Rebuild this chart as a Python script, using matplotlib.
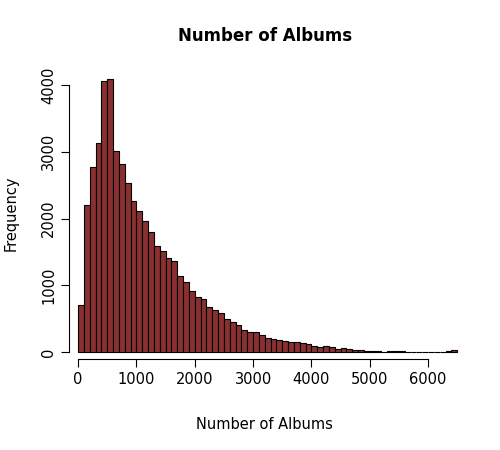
import matplotlib.pyplot as plt
import numpy as np

# histogram counts per bin of 100 albums
bin_edges = np.arange(0, 6600, 100)
counts = [711, 2204, 2766, 3129, 4055, 4085, 3010, 2816, 2532, 2264,
          2114, 1965, 1801, 1592, 1517, 1413, 1368, 1144, 1055, 920,
          831, 801, 667, 622, 577, 488, 443, 398, 323, 294,
          294, 249, 204, 190, 175, 160, 145, 145, 140, 115,
          90, 75, 85, 70, 45, 55, 40, 30, 30, 20,
          15, 8, 5, 22, 22, 20, 5, 5, 3, 3,
          3, 3, 5, 8, 30]

fig = plt.figure(figsize=(5, 4.5), dpi=100)
ax = fig.add_axes([0.1385, 0.203, 0.782, 0.645])
ax.bar(bin_edges[:-1], counts, width=100, align='edge',
       color='#8b3030', edgecolor='black', linewidth=0.8)

ax.set_xlim(-150, 6550)
ax.set_ylim(-100, 4250)
for s in ['top', 'right']:
    ax.spines[s].set_visible(False)
ax.spines['left'].set_bounds(0, 4000)
ax.spines['bottom'].set_bounds(0, 6000)
ax.set_xticks(range(0, 7000, 1000))
ax.set_yticks(range(0, 5000, 1000))
ax.set_yticklabels([str(v) for v in range(0, 5000, 1000)], rotation=90, va='center')
ax.tick_params(labelsize=10.5, length=6)

ax.set_title("Number of Albums", fontsize=12, fontweight='bold', pad=20)
ax.set_xlabel("Number of Albums", fontsize=10.5, labelpad=22)
ax.set_ylabel("Frequency", fontsize=10.5, labelpad=16)

fig.savefig("out.png", dpi=100)
